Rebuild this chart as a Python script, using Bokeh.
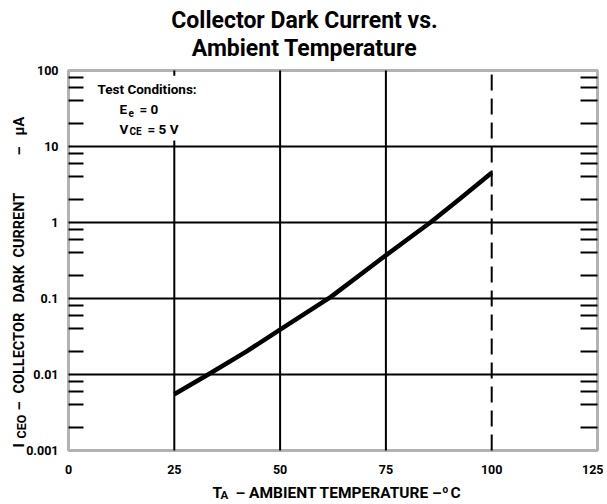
import math
from bokeh.plotting import figure
from bokeh.models import (FixedTicker, LogAxis, LinearAxis, Label,
                          BoxAnnotation, Range1d)
from bokeh.embed import file_html
from bokeh.resources import INLINE

# ---- data ----
temp_c = [25, 33, 42, 50, 62, 75, 85.5, 92.5, 100]
iceo_ua = [0.0055, 0.01, 0.02, 0.039, 0.105, 0.37, 1.0, 2.05, 4.5]

x_ticks = [0, 25, 50, 75, 100, 125]
y_ticks = [0.001, 0.01, 0.1, 1, 10, 100]
y_tick_labels = ["0.001", "0.01", "0.1", "1", "10", "100"]
x_solid_grid = [25, 50, 75]
x_dashed_grid = [100]
y_grid = [0.01, 0.1, 1, 10]
minor_mult = [2, 4, 6, 8]
decades = [0.001, 0.01, 0.1, 1, 10]

# ---- layout (pixels) ----
W, H = 603, 502
FL, FR, FT, FB = 68, 597, 70, 450   # plot box edges on the canvas
FONT = "Roboto"

minor = [m * d for d in decades for m in minor_mult]
x0, x1 = x_ticks[0], x_ticks[-1]
y0, y1 = y_ticks[0], y_ticks[-1]
sx = (FR - FL) / (x1 - x0)
dec_px = (FB - FT) / (math.log10(y1) - math.log10(y0))
x_range = Range1d(x0 - FL / sx, x1 + (W - FR) / sx)
y_range = Range1d(10 ** (math.log10(y0) - (H - FB) / dec_px),
                  10 ** (math.log10(y1) + FT / dec_px))

p = figure(width=W, height=H, x_range=x_range, y_range=y_range,
           y_axis_type="log", x_axis_location=None, y_axis_location=None,
           output_backend="svg", toolbar_location=None,
           min_border=0, min_border_left=0, min_border_right=0,
           min_border_top=0, min_border_bottom=0)
p.background_fill_color = "white"
p.border_fill_color = "white"
p.outline_line_color = None
p.grid.visible = False

# grid lines inside the plot box
p.segment(x0=x_solid_grid, x1=x_solid_grid,
          y0=[y0] * len(x_solid_grid), y1=[y1] * len(x_solid_grid),
          line_color="black", line_width=2)
p.segment(x0=x_dashed_grid, x1=x_dashed_grid,
          y0=[y0] * len(x_dashed_grid), y1=[y1] * len(x_dashed_grid),
          line_color="black", line_width=2, line_dash="16 8")
p.segment(x0=[x0] * len(y_grid), x1=[x1] * len(y_grid), y0=y_grid, y1=y_grid,
          line_color="black", line_width=2)

# curve
p.line(temp_c, iceo_ua, line_color="black", line_width=4.5)

# mask behind the test-condition text
p.add_layout(BoxAnnotation(left=22, right=28, bottom=12, top=85,
                           fill_color="white", fill_alpha=1.0,
                           line_color=None))
# plot box border
p.add_layout(BoxAnnotation(left=x0, right=x1, bottom=y0, top=y1,
                           fill_alpha=0.0, line_color="black", line_width=3))

# bottom axis
xa = LinearAxis(fixed_location=y0, bounds=(x0, x1),
                ticker=FixedTicker(ticks=x_ticks))
xa.axis_line_color = None
xa.major_tick_in = 0
xa.major_tick_out = 0
xa.minor_tick_line_color = None
xa.major_label_standoff = 14
xa.major_label_text_font = FONT
xa.major_label_text_font_style = "bold"
xa.major_label_text_font_size = "12.5px"
xa.major_label_text_color = "black"
p.add_layout(xa, "below")

# left axis
ya = LogAxis(fixed_location=x0, bounds=(y0, y1),
             ticker=FixedTicker(ticks=y_ticks, minor_ticks=minor))
ya.major_label_overrides = {t: s for t, s in zip(y_ticks, y_tick_labels)}
ya.axis_line_color = None
ya.major_tick_in = 0
ya.major_tick_out = 0
ya.minor_tick_in = 15
ya.minor_tick_out = 0
ya.minor_tick_line_width = 2
ya.minor_tick_line_color = "black"
ya.major_label_standoff = 10
ya.major_label_text_font = FONT
ya.major_label_text_font_style = "bold"
ya.major_label_text_font_size = "12.5px"
ya.major_label_text_color = "black"
p.add_layout(ya, "left")

# right axis (minor ticks only)
ra = LogAxis(fixed_location=x1, bounds=(y0, y1),
             ticker=FixedTicker(ticks=[], minor_ticks=minor))
ra.axis_line_color = None
ra.major_tick_in = 0
ra.major_tick_out = 0
ra.minor_tick_in = 17
ra.minor_tick_out = 0
ra.minor_tick_line_width = 2
ra.minor_tick_line_color = "black"
ra.major_label_text_font_size = "0px"
p.add_layout(ra, "right")


def lab(text, X, Y, size, align="left", angle=0.0):
    """X, Y: canvas pixels from top-left; Y is the text's vertical middle."""
    p.add_layout(Label(x=X, y=H - Y, x_units="screen", y_units="screen",
                       text=text, text_font=FONT, text_font_style="bold",
                       text_font_size=size, text_color="black",
                       text_align=align, text_baseline="middle",
                       angle=angle))


# title
lab("Collector Dark Current vs.", 304, 20, "23px", align="center")
lab("Ambient Temperature", 304, 47.5, "23px", align="center")

# test conditions
lab("Test Conditions:", 97, 88.5, "13.5px")
lab("E", 119, 108.5, "13.5px")
lab("e", 128, 112.5, "10px")
lab("= 0", 139, 108.5, "13.5px")
lab("V", 119, 128.5, "13.5px")
lab("CE", 129, 131, "10px")
lab("= 5 V", 147, 128.5, "13.5px")

# x axis title
lab("T", 212, 492.5, "15.5px")
lab("A", 220, 494.5, "11.5px")
lab("\u2013 AMBIENT TEMPERATURE \u2013", 235, 492.5, "15.5px")
lab("o", 442, 488.5, "10px")
lab("C", 450, 492.5, "15.5px")

# y axis title (rotated, reads upward)
a = math.pi / 2
lab("I", 18.5, 447, "14.5px", angle=a)
lab("CEO", 20.5, 438, "12.5px", angle=a)
lab("\u2013", 18.5, 410, "14.5px", angle=a)
lab("COLLECTOR", 18.5, 393, "14.5px", angle=a)
lab("DARK", 18.5, 302, "14.5px", angle=a)
lab("CURRENT", 18.5, 257, "14.5px", angle=a)
lab("\u2013", 18.5, 155, "14.5px", angle=a)
lab("\u03bcA", 18.5, 135, "14.5px", angle=a)

open("out.html", "w").write(file_html(p, INLINE))
